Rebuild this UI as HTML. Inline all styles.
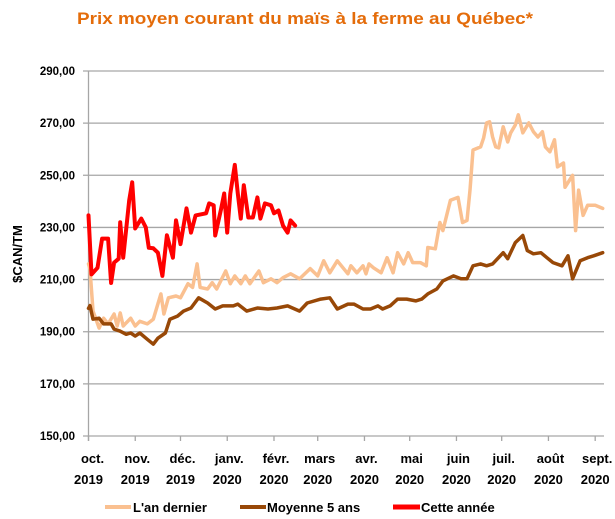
<!DOCTYPE html>
<html><head><meta charset="utf-8"><style>
body{margin:0;background:#fff;}
svg{display:block;font-family:"Liberation Sans",sans-serif;}
</style></head><body>
<svg id="chart" width="615" height="519" viewBox="0 0 615 519">
<text x="305" y="24" text-anchor="middle" font-size="17" font-weight="bold" fill="#E46C0A" textLength="456" lengthAdjust="spacingAndGlyphs">Prix moyen courant du maïs à la ferme au Québec*</text>
<text transform="translate(22,254) rotate(-90)" text-anchor="middle" font-size="13" font-weight="bold" fill="#000">$CAN/TM</text>
<g id="grid"></g><g id="series"></g><g id="xlabels"></g>
<g>
<line x1="105" y1="507" x2="131" y2="507" stroke="#FAC090" stroke-width="4"/>
<text x="133" y="512" font-size="13" font-weight="bold">L'an dernier</text>
<line x1="240" y1="507" x2="266" y2="507" stroke="#984807" stroke-width="4"/>
<text x="267" y="512" font-size="13" font-weight="bold">Moyenne 5 ans</text>
<line x1="393" y1="507" x2="420" y2="507" stroke="#FF0000" stroke-width="5"/>
<text x="421" y="512" font-size="13" font-weight="bold">Cette année</text>
</g>
</svg>
<script>
const yTicks=[150,170,190,210,230,250,270,290];
const yTickLabels=["150,00","170,00","190,00","210,00","230,00","250,00","270,00","290,00"];
const monthDays=[0,31,61,92,123,152,183,213,244,274,305,336];
const monthNames=["oct.","nov.","déc.","janv.","févr.","mars","avr.","mai","juin","juil.","août","sept."];
const monthYears=["2019","2019","2019","2020","2020","2020","2020","2020","2020","2020","2020","2020"];
const lastYearDays=[0,1,3,7,10,13,17,19,21,23,28,31,34,39,43,48,50,53,58,61,66,69,72,74,79,82,85,91,94,97,101,104,107,113,116,121,125,129,134,140,147,152,156,160,165,172,174,178,182,184,186,189,194,198,202,205,209,212,215,220,224,225,230,233,235,240,245,248,251,253,255,260,262,264,266,268,270,272,275,278,280,283,285,288,292,295,298,301,303,306,309,311,315,316,321,323,325,328,331,336,341];
const lastYearValues=[216,214,198,191.4,195.2,193,196.8,192.2,197.2,192.2,195.2,192.2,194,193,194.8,204.5,196.8,203,203.7,203,208.4,207,216,207,206.4,208.8,206.4,213.3,208.4,211.4,208.4,211.4,208.4,213.3,208.8,210.3,208.8,210.7,212.2,210.3,214.2,211.4,217.2,212.6,217.2,212.2,215.3,212.6,215.3,212.2,216,214.5,212.6,218.4,212.6,220.3,216,220.3,216.5,216.5,215.3,222.3,221.8,231.9,228.8,240.4,241.5,231.9,232.7,244.3,259.7,260.9,264.3,270.1,270.5,264.7,260.9,260.5,268.6,262.8,266.3,269.3,273.2,266.3,270.1,266.7,264.7,266.7,260.9,259,263.6,253.2,254.7,245.4,250,228.8,244.3,234.6,238.5,238.5,237.3];
const avgDays=[0,1,3,7,10,15,17,21,25,28,31,34,39,43,46,51,54,59,63,68,73,79,84,89,96,99,105,112,119,125,132,140,145,154,160,165,172,176,182,187,192,195,200,205,211,217,221,225,231,235,242,247,251,255,260,264,268,275,278,283,288,291,295,300,304,308,314,318,321,326,331,335,341];
const avgValues=[199,200,194.8,195.2,193,193,191,190.2,189,189.5,188.3,189.5,187.1,185.2,187.5,189.5,194.8,196,197.9,199.1,203,201,198.7,199.9,199.9,200.6,197.9,199.1,198.7,199.1,199.9,197.9,201,202.5,203,198.7,200.6,200.6,198.7,198.7,199.9,198.7,199.9,202.5,202.5,201.8,202.5,204.5,206.4,209.5,211.4,210.3,210.3,215.3,216,215.3,216,220.3,218,224.2,226.9,221.1,219.9,220.3,218.4,216.5,215.3,219.1,210.3,217.2,218.4,219.1,220.3];
const thisYearDays=[0,2,6,9,13,15,17,20,21,23,27,29,31,35,38,40,43,46,49,52,56,58,61,65,68,71,78,80,83,84,88,90,92,94,97,99,101,103,106,109,112,114,117,121,123,126,129,132,134,137];
const thisYearValues=[234.6,212,214.5,225.7,225.7,208.7,216.5,218,232,218.4,240.4,247.3,229.6,233.4,230,222.2,222,220.3,211.4,227,218.4,232.7,223.6,237.3,228,234.6,235.4,239.2,238.5,226.9,237.3,243,228,243,254,243,233.4,246.2,233.8,233.8,241.5,233.4,239.2,238.5,235.4,236.5,230.7,228,232.7,230.7];

const X0=88.5,XPD=1.508,Y0=71,YPU=365/140;
const xs=d=>X0+d*XPD, ys=v=>Y0+(290-v)*YPU;
const NS="http://www.w3.org/2000/svg";
function mk(tag,attrs,parent){const e=document.createElementNS(NS,tag);for(const k in attrs)e.setAttribute(k,attrs[k]);parent.appendChild(e);return e;}
const grid=document.getElementById('grid');
yTicks.forEach((v,i)=>{
  const l=mk('line',{x1:83,x2:604,y1:ys(v),y2:ys(v),stroke:'#A6A6A6','stroke-width':1.3},grid);
  
  
  const t=mk('text',{x:75,y:ys(v)+4,'text-anchor':'end','font-size':11.5,'font-weight':'bold'},grid);
  t.textContent=yTickLabels[i];
  
  
});
const ax=mk('line',{x1:X0,x2:X0,y1:Y0,y2:ys(150)+5,stroke:'#A6A6A6','stroke-width':1.3},grid);


const xl=document.getElementById('xlabels');
monthDays.forEach((d,i)=>{
  const tk=mk('line',{x1:xs(d),x2:xs(d),y1:ys(150),y2:ys(150)+5,stroke:'#A6A6A6','stroke-width':1.3},xl);
  
  
  const t1=mk('text',{x:xs(d)+(i==0?4:2),y:463,'text-anchor':'middle','font-size':13,'font-weight':'bold'},xl);
  t1.textContent=monthNames[i];
  
  
  const t2=mk('text',{x:xs(d),y:484,'text-anchor':'middle','font-size':13,'font-weight':'bold'},xl);
  t2.textContent=monthYears[i];
  
  
});
const sg=document.getElementById('series');
function line(days,vals,color,w,name){
  const pts=days.map((d,i)=>xs(d).toFixed(1)+','+ys(vals[i]).toFixed(1)).join(' ');
  const p=mk('polyline',{points:pts,fill:'none',stroke:color,'stroke-width':w,'stroke-linejoin':'round','stroke-linecap':'round'},sg);
  
  
}
line(lastYearDays,lastYearValues,'#FAC090',3.5,'line-last-year');
line(avgDays,avgValues,'#984807',3.5,'line-5yr-average');
line(thisYearDays,thisYearValues,'#FF0000',4,'line-this-year');
</script>
</body></html>
